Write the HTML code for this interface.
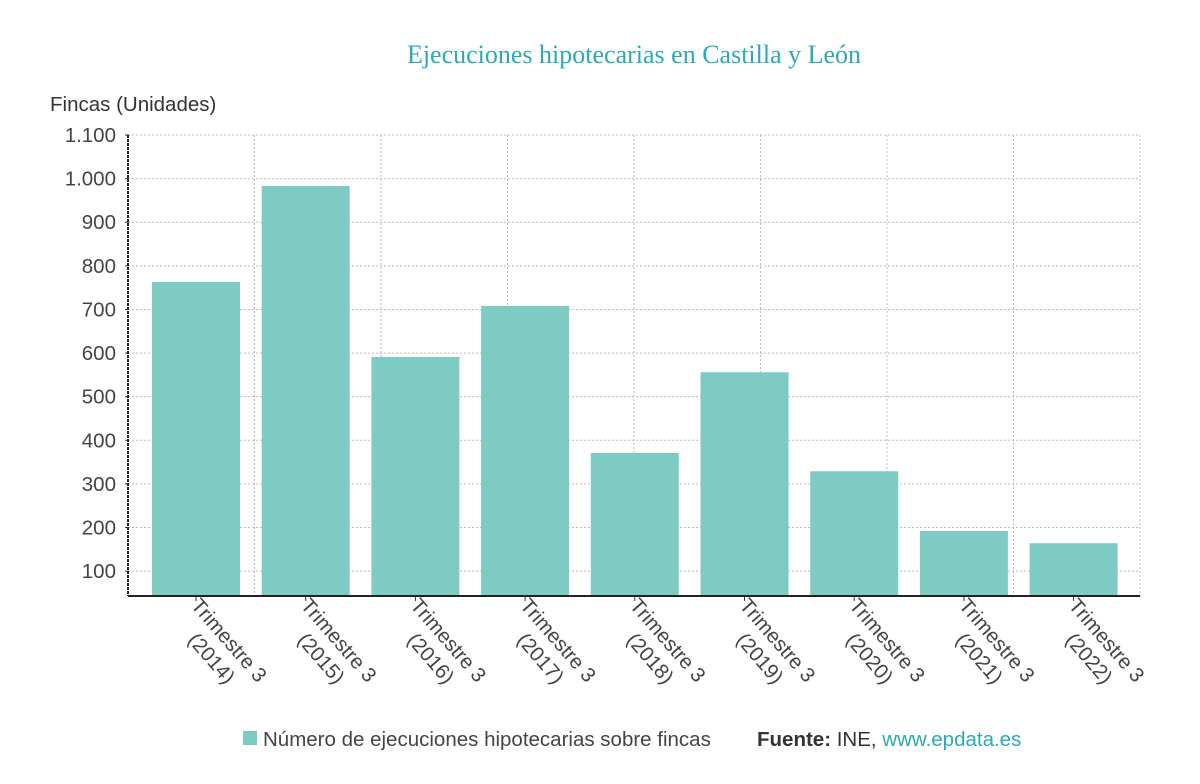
<!DOCTYPE html>
<html><head><meta charset="utf-8"><style>
body{margin:0;background:#fff;width:1200px;height:779px;overflow:hidden;font-family:"Liberation Sans",sans-serif}
</style></head><body>
<svg id="chart" width="1200" height="779" xmlns="http://www.w3.org/2000/svg">
<text x="634" y="63" text-anchor="middle" font-family="Liberation Serif,serif" font-size="26" fill="#2aaab5">Ejecuciones hipotecarias en Castilla y León</text>
<text x="50" y="111" font-size="20.5" fill="#333">Fincas (Unidades)</text>
<g id="grid"></g><g id="bars"></g><g id="axes"></g>
<g>
<rect x="243" y="731" width="14" height="14" fill="#7dcbc3"/>
<text x="263" y="746" font-size="20.5" fill="#444">Número de ejecuciones hipotecarias sobre fincas</text>
<text x="757" y="746" font-size="20.5" fill="#333"><tspan font-weight="bold">Fuente:</tspan> INE, <tspan fill="#2aaab5">www.epdata.es</tspan></text>
</g>
</svg>
<script>
const categories=["2014","2015","2016","2017","2018","2019","2020","2021","2022"];
const values=[763,983,591,708,371,556,329,192,164];
const yTicks=[100,200,300,400,500,600,700,800,900,1000,1100];
const yTickLabels=["100","200","300","400","500","600","700","800","900","1.000","1.100"];
const NS="http://www.w3.org/2000/svg";
const x0=128,x1=1140,yTop=135,yBot=596,vMax=1100,vMin=43;
function y(v){return yBot-(v-vMin)/(vMax-vMin)*(yBot-yTop);}
const step=109.7,first=196;
function cx(i){return first+i*step;}
function mk(tag,attrs,parent){const e=document.createElementNS(NS,tag);for(const k in attrs)e.setAttribute(k,attrs[k]);parent.appendChild(e);return e;}
const grid=document.getElementById('grid'),bars=document.getElementById('bars'),axes=document.getElementById('axes');
yTicks.forEach((t,i)=>{
  const l=mk('line',{x1:x0,x2:x1,y1:y(t),y2:y(t),stroke:'#bbb','stroke-dasharray':'2,2'},grid);
  
  
  const tx=mk('text',{x:116,y:y(t)+7,'text-anchor':'end','font-size':'20.5',fill:'#444'},axes);
  tx.textContent=yTickLabels[i];
  
  
  mk('line',{x1:125,x2:129,y1:y(t),y2:y(t),stroke:'#333'},axes);
});
for(let i=1;i<=8;i++){
  const xx=x0+i*126.5;
  const l=mk('line',{x1:xx,x2:xx,y1:yTop,y2:yBot,stroke:'#bbb','stroke-dasharray':'2,2'},grid);
  
  
}
values.forEach((v,i)=>{
  const r=mk('rect',{x:cx(i)-44,y:y(v),width:88,height:yBot-y(v),fill:'#7dcbc3'},bars);
  
  
  mk('line',{x1:cx(i),x2:cx(i),y1:yBot,y2:yBot+5,stroke:'#333'},axes);
  const g=mk('g',{transform:`translate(${cx(i)-6},${yBot+10}) rotate(49)`},axes);
  
  
  const t1=mk('text',{x:0,y:0,'font-size':'20.5',fill:'#444'},g);t1.textContent='Trimestre 3';
  const t2=mk('text',{x:24,y:25,'font-size':'20.5',fill:'#444'},g);t2.textContent='('+categories[i]+')';
});
const ya=mk('line',{x1:x0,x2:x0,y1:yTop,y2:yBot,stroke:'#222','stroke-width':2,'stroke-dasharray':'3,1'},axes);


const xa=mk('line',{x1:x0,x2:x1,y1:yBot,y2:yBot,stroke:'#222','stroke-width':2},axes);


</script>
</body></html>
